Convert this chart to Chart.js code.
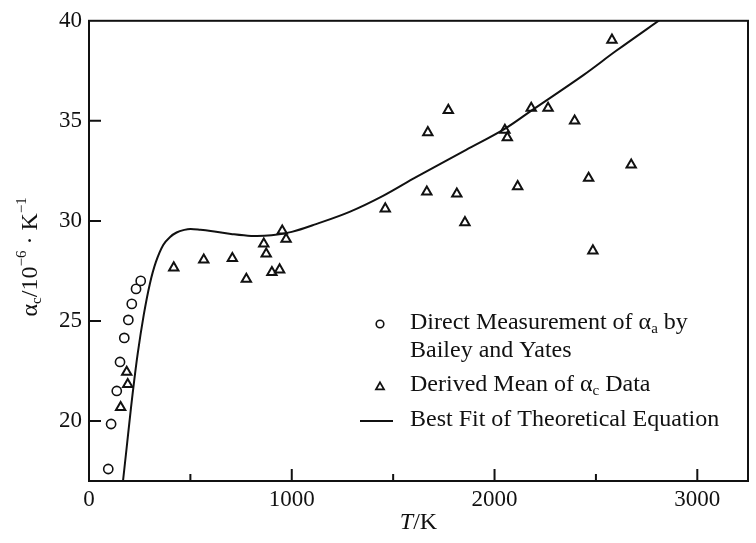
<!DOCTYPE html>
<html>
<head>
<meta charset="utf-8">
<script src="https://cdn.jsdelivr.net/npm/chart.js@4/dist/chart.umd.min.js"></script>
<style>
  html, body { margin: 0; padding: 0; background: #fff; }
</style>
</head>
<body>
<canvas id="alpha_chart" width="756" height="543"></canvas>
<script>
// Bailey and Yates direct measurements (T in K, alpha in 1e-6/K)
const directT = [95, 109, 137, 153, 174, 194, 211, 232, 255];
const directAlpha = [17.6, 19.85, 21.5, 22.95, 24.15, 25.05, 25.85, 26.6, 27.0];

// Derived mean values of alpha_c
const derivedT = [156, 186, 191, 418, 566, 707, 776, 862, 874, 902, 940, 953, 972,
  1461, 1666, 1671, 1772, 1814, 1854, 2051, 2063, 2114, 2181, 2264, 2395, 2464, 2485, 2579, 2674];
const derivedAlpha = [20.68, 22.44, 21.83, 27.66, 28.05, 28.13, 27.09, 28.85, 28.35, 27.43, 27.56, 29.5, 29.09,
  30.61, 31.45, 34.42, 35.53, 31.35, 29.92, 34.54, 34.16, 31.72, 35.64, 35.64, 35.0, 32.14, 28.51, 39.04, 32.8];

// Theoretical best-fit curve
const fitT = [165, 185, 200, 215, 240, 270, 300, 330, 366, 400, 432, 470, 500, 550, 600,
  700, 800, 900, 1000, 1120, 1285, 1450, 1615, 1860, 2050, 2180, 2440, 2600, 2830];
const fitAlpha = [16.75, 18.6, 20.0, 21.35, 23.35, 25.3, 26.85, 27.95, 28.8, 29.2, 29.42, 29.55, 29.6, 29.56, 29.5,
  29.35, 29.25, 29.28, 29.45, 29.84, 30.45, 31.25, 32.2, 33.55, 34.6, 35.5, 37.3, 38.5, 40.15];

// Axis ticks
const xLabelTicks = [0, 1000, 2000, 3000];
const xMinorTicks = [500, 1500, 2500];
const yLabelTicks = [20, 25, 30, 35, 40];

const INK = "#111";
const SERIF = '"Liberation Serif", "Times New Roman", serif';

const toPoints = (xs, ys) => xs.map((x, i) => ({ x, y: ys[i] }));

// Draws text made of plain / italic / sub / sup parts, starting at x
function richText(ctx, parts, x, y, size, draw) {
  let cx = x;
  for (const [t, s] of parts) {
    const small = s === "sub" || s === "sup";
    const fs = small ? Math.round(size * 0.62) : size;
    ctx.font = (s === "i" ? "italic " : "") + fs + "px " + SERIF;
    const dy = s === "sub" ? size * 0.24 : s === "sup" ? -size * 0.36 : 0;
    if (draw) ctx.fillText(t, cx, y + dy);
    cx += ctx.measureText(t).width;
  }
  return cx - x;
}

const decorations = {
  id: "decorations",
  afterDraw(chart) {
    const { ctx, chartArea: a, scales: { x, y } } = chart;
    ctx.save();

    // frame and inward ticks
    ctx.strokeStyle = INK;
    ctx.lineWidth = 2;
    ctx.strokeRect(a.left, a.top, a.right - a.left, a.bottom - a.top);
    ctx.beginPath();
    xLabelTicks.slice(1).forEach(v => {
      const px = x.getPixelForValue(v);
      ctx.moveTo(px, a.bottom);
      ctx.lineTo(px, a.bottom - 12);
    });
    xMinorTicks.forEach(v => {
      const px = x.getPixelForValue(v);
      ctx.moveTo(px, a.bottom);
      ctx.lineTo(px, a.bottom - 7);
    });
    yLabelTicks.slice(0, -1).forEach(v => {
      const py = y.getPixelForValue(v);
      ctx.moveTo(a.left, py);
      ctx.lineTo(a.left + 12, py);
    });
    ctx.stroke();

    ctx.fillStyle = INK;
    ctx.textBaseline = "middle";
    ctx.textAlign = "left";

    // x axis title
    const xt = [["T", "i"], ["/K", ""]];
    const xw = richText(ctx, xt, 0, 0, 24, false);
    richText(ctx, xt, (a.left + a.right) / 2 - xw / 2, 523, 24, true);

    // y axis title, rotated
    const yt = [["α", ""], ["c", "sub"], ["/10", ""], ["−6", "sup"], [" · K", ""], ["−1", "sup"]];
    const yw = richText(ctx, yt, 0, 0, 24, false);
    ctx.save();
    ctx.translate(31, (a.top + a.bottom) / 2 + 6);
    ctx.rotate(-Math.PI / 2);
    richText(ctx, yt, -yw / 2, 0, 24, true);
    ctx.restore();

    // legend
    const tx = 410, sx = 380;
    ctx.lineWidth = 1.6;
    ctx.beginPath();
    ctx.arc(sx, 324, 3.8, 0, Math.PI * 2);
    ctx.stroke();
    richText(ctx, [["Direct Measurement of α", ""], ["a", "sub"], [" by", ""]], tx, 323, 24, true);
    richText(ctx, [["Bailey and Yates", ""]], tx, 351, 24, true);

    ctx.lineWidth = 1.8;
    const r = 4.6;
    ctx.beginPath();
    ctx.moveTo(sx, 387 - r);
    ctx.lineTo(sx + r * 0.866, 387 + r / 2);
    ctx.lineTo(sx - r * 0.866, 387 + r / 2);
    ctx.closePath();
    ctx.stroke();
    richText(ctx, [["Derived Mean of α", ""], ["c", "sub"], [" Data", ""]], tx, 385, 24, true);

    ctx.lineWidth = 2;
    ctx.beginPath();
    ctx.moveTo(360, 421);
    ctx.lineTo(393, 421);
    ctx.stroke();
    richText(ctx, [["Best Fit of Theoretical Equation", ""]], tx, 420, 24, true);

    ctx.restore();
  }
};

const ctx = document.getElementById("alpha_chart").getContext("2d");

new Chart(ctx, {
  type: "scatter",
  data: {
    datasets: [
      {
        label: "Best Fit of Theoretical Equation",
        data: toPoints(fitT, fitAlpha),
        showLine: true,
        borderColor: INK,
        borderWidth: 2,
        pointRadius: 0,
        tension: 0.35,
        fill: false,
      },
      {
        label: "Direct Measurement of αa by Bailey and Yates",
        data: toPoints(directT, directAlpha),
        pointStyle: "circle",
        pointRadius: 4.6,
        borderWidth: 1.6,
        borderColor: INK,
        backgroundColor: "#fff",
      },
      {
        label: "Derived Mean of αc Data",
        data: toPoints(derivedT, derivedAlpha),
        pointStyle: "triangle",
        pointRadius: 5.4,
        borderWidth: 2,
        borderColor: INK,
        backgroundColor: "#fff",
      },
    ],
  },
  options: {
    responsive: false,
    animation: false,
    layout: { padding: { left: 0, right: 8, top: 17, bottom: 0 } },
    plugins: {
      legend: { display: false },
      tooltip: { enabled: false },
    },
    scales: {
      x: {
        type: "linear",
        min: 0,
        max: 3250,
        afterBuildTicks: s => { s.ticks = xLabelTicks.map(v => ({ value: v })); },
        afterFit: s => { s.height = 62; },
        grid: { display: false, drawTicks: false },
        border: { display: false },
        ticks: {
          color: INK,
          font: { family: SERIF, size: 23 },
          padding: 5,
          maxRotation: 0,
          callback: v => String(v),
        },
      },
      y: {
        min: 17,
        max: 40,
        afterBuildTicks: s => { s.ticks = yLabelTicks.map(v => ({ value: v })); },
        afterFit: s => { s.width = 89; },
        grid: { display: false, drawTicks: false },
        border: { display: false },
        ticks: { color: INK, font: { family: SERIF, size: 23 }, padding: 7 },
      },
    },
  },
  plugins: [decorations],
});
</script>
</body>
</html>
